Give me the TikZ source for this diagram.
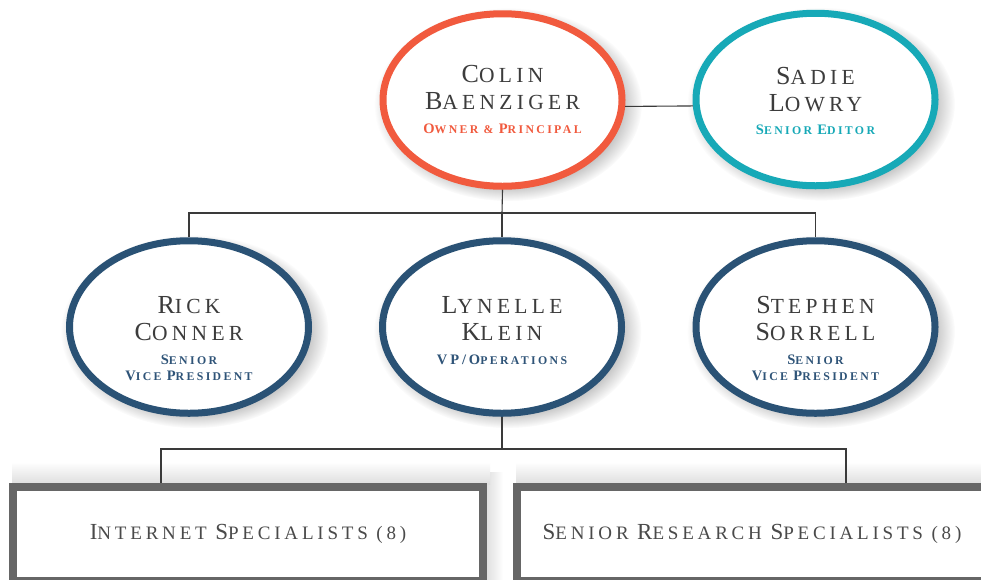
\documentclass[tikz,border=0pt]{standalone}
\usepackage{fontspec}
\setmainfont{Liberation Serif}[LetterSpace=20]
\usetikzlibrary{shapes.geometric,shadows,fadings}
\definecolor{corange}{HTML}{F15A3E}
\definecolor{cteal}{HTML}{17A9B7}
\definecolor{cnavy}{HTML}{2A5275}
\definecolor{cnavyt}{HTML}{2F5478}
\definecolor{cname}{HTML}{3C3C3C}
\definecolor{cbox}{HTML}{666666}
\definecolor{cboxt}{HTML}{4A4A4A}
\definecolor{cline}{HTML}{3A3A3A}
\newcommand\NB[1]{{\fontsize{26}{27}\selectfont #1}}
\newcommand\SB[1]{{\fontsize{14.5}{16}\selectfont #1}}
\newcommand\BB[1]{{\fontsize{23}{24}\selectfont #1}}
\tikzset{
  pers/.style={ellipse, draw=#1, line width=7pt, fill=white,
    minimum width=239pt, minimum height=172.5pt, inner sep=0pt,
    general shadow={fill=black, opacity=0.3, path fading=circle with fuzzy edge 20 percent,
      shadow xshift=5pt, shadow yshift=-4pt, shadow scale=1.12}},
  nametxt/.style={anchor=north, inner sep=0pt, align=center, text=cname,
    font=\fontsize{21.5}{27}\selectfont},
  roletxt/.style={anchor=north, inner sep=0pt, align=center, text=#1,
    font=\bfseries\fontsize{11.8}{16}\selectfont},
  unitbox/.style={rectangle, draw=cbox, line width=8pt, fill=white,
    minimum width=470pt, minimum height=94pt, inner sep=0pt, text=cboxt,
    font=\fontsize{19}{20}\selectfont},
  topshadow/.style={top color=white, bottom color=black!13},
  sideshadow/.style={left color=black!13, right color=white},
  link/.style={draw=cline, line width=1.1pt},
}
\begin{document}
\begin{tikzpicture}[x=1pt,y=-1pt]
\fill[white] (0,0) rectangle (981,579);
\useasboundingbox (0,0) rectangle (981,579);

% people
\node[pers=corange] (colin) at (502.5,100) {};
\node[pers=cteal] (sadie) at (815.5,99.5) {};
\node[pers=cnavy] (rick) at (189,327) {};
\node[pers=cnavy] (lynelle) at (502,327) {};
\node[pers=cnavy] (stephen) at (815.5,327) {};

% soft shadows of the unit boxes
\shade[sideshadow] (486,472) rectangle (503,579);
\shade[topshadow] (12,462) rectangle (490,484);
\shade[topshadow] (516,462) rectangle (981,484);

% units
\node[unitbox] (box1) at (248,534) {\BB{I}NTERNET \BB{S}PECIALISTS (8)};
\node[unitbox] (box2) at (752,534) {\BB{S}ENIOR \BB{R}ESEARCH \BB{S}PECIALISTS (8)};

% connectors
\draw[link] (colin.-3.6) -- (sadie.183.8);
\coordinate (j1) at (502,213);
\draw[link] (colin.south) -- (j1);
\draw[link] (rick.north) |- (j1) -| (stephen.north);
\draw[link] (j1) -- (lynelle.north);
\coordinate (j2) at (502,449);
\coordinate (t1) at ([xshift=-87pt]box1.north);
\coordinate (t2) at ([xshift=94pt]box2.north);
\draw[link] (lynelle.south) -- (j2);
\draw[link] (t1) |- (j2) -| (t2);

% texts
\node[nametxt] (colinN) at ([yshift=-55pt]colin.north) {\NB{C}OLIN\\\NB{B}AENZIGER};
\node[roletxt=corange] (colinR) at ([yshift=-113pt]colin.north) {\SB{O}WNER \& \SB{P}RINCIPAL};
\node[nametxt] (sadieN) at ([yshift=-57pt]sadie.north) {\NB{S}ADIE\\\NB{L}OWRY};
\node[roletxt=cteal] (sadieR) at ([yshift=-115pt]sadie.north) {\SB{S}ENIOR \SB{E}DITOR};
\node[nametxt] (rickN) at ([yshift=-59pt]rick.north) {\NB{R}ICK\\\NB{C}ONNER};
\node[roletxt=cnavyt] (rickR) at ([yshift=-117pt]rick.north) {\SB{S}ENIOR\\\SB{V}ICE \SB{P}RESIDENT};
\node[nametxt] (lynelleN) at ([yshift=-59pt]lynelle.north) {\NB{L}YNELLE\\\NB{K}LEIN};
\node[roletxt=cnavyt] (lynelleR) at ([yshift=-117pt]lynelle.north) {\SB{VP/O}PERATIONS};
\node[nametxt] (stephenN) at ([yshift=-59pt]stephen.north) {\NB{S}TEPHEN\\\NB{S}ORRELL};
\node[roletxt=cnavyt] (stephenR) at ([yshift=-117pt]stephen.north) {\SB{S}ENIOR\\\SB{V}ICE \SB{P}RESIDENT};
\end{tikzpicture}
\end{document}
